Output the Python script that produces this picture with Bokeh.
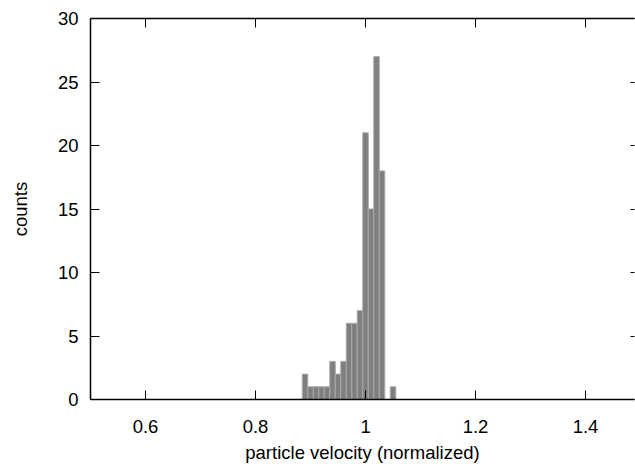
from bokeh.plotting import figure
from bokeh.models import FixedTicker, LinearAxis, CustomJSTickFormatter, Range1d
from bokeh.embed import file_html
from bokeh.resources import INLINE

# histogram bins (centres) and counts
bin_centers = [0.89, 0.90, 0.91, 0.92, 0.93, 0.94, 0.95, 0.96, 0.97, 0.98,
               0.99, 1.00, 1.01, 1.02, 1.03, 1.04, 1.05]
counts = [2, 1, 1, 1, 1, 3, 2, 3, 6, 6, 7, 21, 15, 27, 18, 0, 1]
bin_width = 0.01

x_ticks = [0.6, 0.8, 1.0, 1.2, 1.4]
y_ticks = [0, 5, 10, 15, 20, 25, 30]

FONT = "Liberation Sans"
FS = "18.5px"

p = figure(width=635, height=469, output_backend="svg", toolbar_location=None,
           x_range=Range1d(0.5, 1.489), y_range=Range1d(0, 30),
           min_border_left=90, min_border_right=1, min_border_top=18,
           min_border_bottom=70)
p.background_fill_color = "white"
p.border_fill_color = "white"
p.grid.visible = False
p.outline_line_color = None

p.vbar(x=bin_centers, top=counts, width=bin_width, bottom=0,
       fill_color="#7f7f7f", line_color="#a8a8a8", line_width=1)

fmt = CustomJSTickFormatter(code="return tick.toString();")
blank = CustomJSTickFormatter(code="return '';")

for ax in p.xaxis:
    ax.ticker = FixedTicker(ticks=x_ticks)
    ax.formatter = fmt
    ax.axis_label = "particle velocity (normalized)"
for ax in p.yaxis:
    ax.ticker = FixedTicker(ticks=y_ticks)
    ax.axis_label = "counts"

for ax in list(p.xaxis) + list(p.yaxis):
    ax.major_tick_in = 9
    ax.major_tick_out = 0
    ax.minor_tick_in = 0
    ax.minor_tick_out = 0
    ax.axis_line_color = "black"
    ax.axis_line_width = 1.5
    ax.major_tick_line_color = "black"
    ax.major_tick_line_width = 1
    ax.major_label_text_font = FONT
    ax.major_label_text_font_size = FS
    ax.major_label_text_color = "black"
    ax.axis_label_text_font = FONT
    ax.axis_label_text_font_size = FS
    ax.axis_label_text_font_style = "normal"
    ax.axis_label_text_color = "black"

p.xaxis.major_label_standoff = 20
p.xaxis.axis_label_standoff = 6
p.yaxis.major_label_standoff = 12
p.yaxis.axis_label_standoff = 24

# mirrored tick marks: top border (with its line) and the right edge,
# where the border itself lies just past the picture's edge
top_ax = LinearAxis(ticker=FixedTicker(ticks=x_ticks), formatter=blank,
                    major_tick_in=9, major_tick_out=0, minor_tick_in=0, minor_tick_out=0,
                    axis_line_color="black", axis_line_width=1.5,
                    major_tick_line_color="black",
                    major_label_text_font_size="1px", major_label_standoff=0)
right_ax = LinearAxis(ticker=FixedTicker(ticks=y_ticks), formatter=blank,
                      major_tick_in=4, major_tick_out=0, minor_tick_in=0, minor_tick_out=0,
                      axis_line_color=None, major_tick_line_color="black",
                      major_label_text_font_size="1px", major_label_standoff=0)
p.add_layout(top_ax, "above")
p.add_layout(right_ax, "right")

open("out.html", "w").write(file_html(p, INLINE))
